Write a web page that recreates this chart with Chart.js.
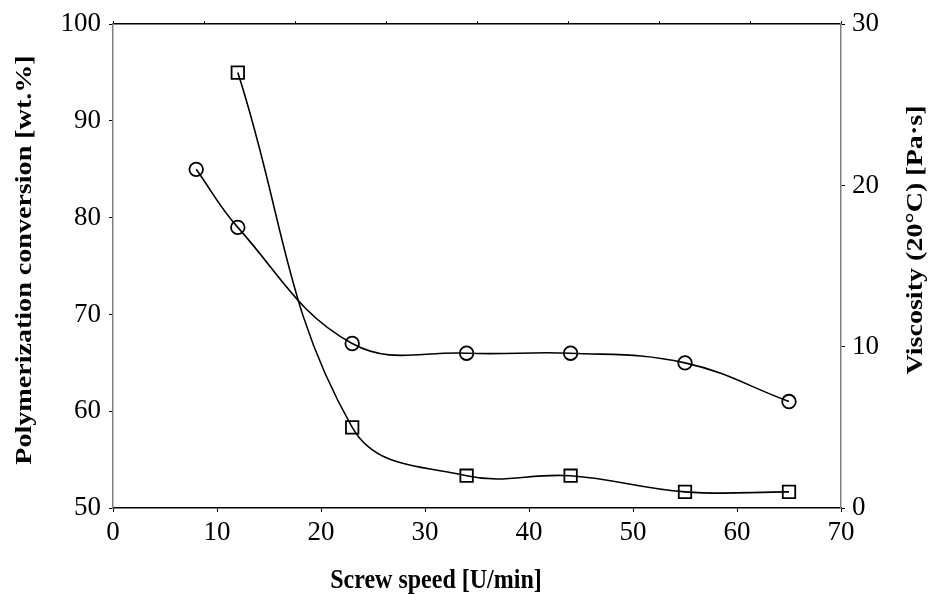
<!DOCTYPE html>
<html>
<head>
<meta charset="utf-8">
<script src="https://cdn.jsdelivr.net/npm/chart.js@4/dist/chart.umd.min.js"></script>
<style>
  body { margin: 0; background: #fff; }
</style>
</head>
<body>
<canvas id="chart" width="933" height="594"></canvas>
<script>
// data
var speed = [8, 12, 23, 34, 44, 55, 65];
var conversion = [85, 79, 67, 66, 66, 65, 61];
var viscSpeed = [12, 23, 34, 44, 55, 65];
var viscosity = [27, 5, 2, 2, 1, 1];

var xTicks = [0, 10, 20, 30, 40, 50, 60, 70];
var leftTicks = [50, 60, 70, 80, 90, 100];
var rightTicks = [0, 10, 20, 30];

var xTitle = 'Screw speed [U/min]';
var leftTitle = 'Polymerization conversion [wt.%]';
var rightTitle = 'Viscosity (20°C) [Pa·s]';

function pts(xs, ys) {
  return xs.map(function (x, i) { return { x: x, y: ys[i] }; });
}

var tickFont = { family: '"Liberation Serif", "Times New Roman", serif', size: 27 };

// axis titles: drawn a bit taller than wide, like the original
var titlePlugin = {
  id: 'titles',
  afterDraw: function (chart) {
    var ctx = chart.ctx;
    ctx.save();
    ctx.fillStyle = '#000';
    ctx.font = 'bold 24px "Liberation Serif", "Times New Roman", serif';
    ctx.textAlign = 'center';

    ctx.save();
    ctx.translate(436, 588);
    ctx.scale(1, 1.17);
    ctx.textBaseline = 'alphabetic';
    ctx.fillText(xTitle, 0, 0);
    ctx.restore();

    ctx.save();
    ctx.translate(25, 260);
    ctx.rotate(-Math.PI / 2);
    ctx.scale(1.17, 1);
    ctx.textBaseline = 'middle';
    ctx.fillText(leftTitle, 0, 0);
    ctx.restore();

    ctx.save();
    ctx.translate(916, 240);
    ctx.rotate(-Math.PI / 2);
    ctx.scale(1.17, 1);
    ctx.textBaseline = 'middle';
    ctx.fillText(rightTitle, 0, 0);
    ctx.restore();

    ctx.restore();
  }
};

var ctx = document.getElementById('chart');
new Chart(ctx, {
  type: 'scatter',
  data: {
    datasets: [
      {
        label: 'Conversion',
        data: pts(speed, conversion),
        yAxisID: 'y',
        showLine: true,
        tension: 0.4,
        borderColor: '#000',
        borderWidth: 1.6,
        pointStyle: 'circle',
        pointRadius: 6.8,
        pointBorderWidth: 1.8,
        pointBorderColor: '#000',
        pointBackgroundColor: 'rgba(0,0,0,0)'
      },
      {
        label: 'Viscosity',
        data: pts(viscSpeed, viscosity),
        yAxisID: 'y1',
        showLine: true,
        tension: 0.4,
        borderColor: '#000',
        borderWidth: 1.6,
        pointStyle: 'rect',
        pointRadius: 8.8,
        pointBorderWidth: 1.8,
        pointBorderColor: '#000',
        pointBackgroundColor: 'rgba(0,0,0,0)'
      }
    ]
  },
  options: {
    responsive: false,
    animation: false,
    layout: { padding: { top: 24, left: 0, right: 0, bottom: 0 } },
    plugins: {
      legend: { display: false },
      tooltip: { enabled: false }
    },
    scales: {
      x: {
        type: 'linear',
        position: 'bottom',
        min: 0, max: 70,
        afterBuildTicks: function (s) { s.ticks = xTicks.map(function (v) { return { value: v }; }); },
        afterFit: function (s) { s.height = 86; },
        ticks: { font: tickFont, color: '#000', padding: 5, maxRotation: 0 },
        grid: { drawOnChartArea: false, drawTicks: true, tickLength: 4, color: '#000' },
        border: { display: true, color: '#000', width: 1.5 }
      },
      xTop: {
        type: 'linear',
        position: 'top',
        min: 0, max: 8,
        afterBuildTicks: function (s) {
          var t = [];
          for (var i = 0; i <= 8; i++) t.push({ value: i });
          s.ticks = t;
        },
        afterFit: function (s) { s.height = 0; },
        ticks: { display: false },
        grid: { drawOnChartArea: false, drawTicks: true, tickLength: 3, color: '#000' },
        border: { display: true, color: '#000', width: 1.5 }
      },
      y: {
        type: 'linear',
        position: 'left',
        min: 50, max: 100,
        afterBuildTicks: function (s) { s.ticks = leftTicks.map(function (v) { return { value: v }; }); },
        afterFit: function (s) { s.width = 113; },
        ticks: { font: tickFont, color: '#000', padding: 8 },
        grid: { drawOnChartArea: false, drawTicks: true, tickLength: 4, color: '#000' },
        border: { display: true, color: '#808080', width: 1.5 }
      },
      y1: {
        type: 'linear',
        position: 'right',
        min: 0, max: 30,
        afterBuildTicks: function (s) { s.ticks = rightTicks.map(function (v) { return { value: v }; }); },
        afterFit: function (s) { s.width = 92; },
        ticks: { font: tickFont, color: '#000', padding: 7 },
        grid: { drawOnChartArea: false, drawTicks: true, tickLength: 4, color: '#000' },
        border: { display: true, color: '#808080', width: 1.5 }
      }
    }
  },
  plugins: [titlePlugin]
});
</script>
</body>
</html>
